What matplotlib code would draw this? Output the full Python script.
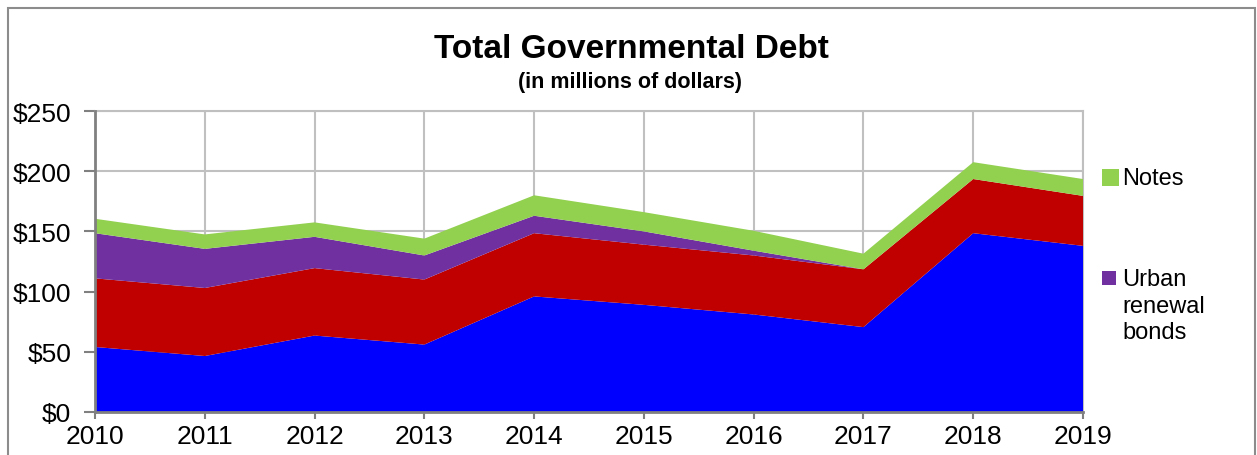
import matplotlib
matplotlib.use("Agg")
import matplotlib.pyplot as plt
from matplotlib.patches import Rectangle
from matplotlib.ticker import FuncFormatter, MultipleLocator

plt.rcParams["font.family"] = ["Liberation Sans", "DejaVu Sans"]

years = [2010, 2011, 2012, 2013, 2014, 2015, 2016, 2017, 2018, 2019]
general_obligation = [54, 46.5, 63.5, 56, 96, 89, 81, 70.5, 148.5, 138]
revenue_bonds = [57, 56.5, 56, 54, 52.5, 50, 49, 48, 45, 41.5]
urban_renewal = [37.5, 32.5, 26, 20, 14.5, 11, 4, 0, 0, 0]
notes = [12, 12, 12, 14, 17, 16, 16.5, 13, 14, 14]

colors = ["#0000FF", "#C00000", "#7030A0", "#92D050"]

W, H = 1257, 456
fig = plt.figure(figsize=(W / 100, H / 100), dpi=100)

# outer chart border
fig.patches.append(Rectangle((8 / W, -0.1), (1255 - 8) / W, 1.1 - 9 / H,
                             transform=fig.transFigure, fill=False,
                             edgecolor="#8c8c8c", linewidth=1.5))

ax = fig.add_axes([95 / W, 1 - 413 / H, (1083 - 95) / W, (413 - 112) / H])
polys = ax.stackplot(years, general_obligation, revenue_bonds, urban_renewal, notes,
                     colors=colors, linewidth=0, zorder=3)

ax.set_xlim(2010, 2019)
ax.set_ylim(0, 250)
ax.set_xticks(years)
ax.yaxis.set_major_locator(MultipleLocator(50))
ax.yaxis.set_major_formatter(FuncFormatter(lambda v, p: f"${v:.0f}"))
ax.grid(True, color="#c0c0c0", linewidth=1.5, zorder=0)
ax.set_axisbelow(True)

for side in ["top", "right"]:
    ax.spines[side].set_color("#bfbfbf")
    ax.spines[side].set_linewidth(1.5)
for side in ["left", "bottom"]:
    ax.spines[side].set_color("#808080")
    ax.spines[side].set_linewidth(2)
    ax.spines[side].set_zorder(5)

ax.tick_params(axis="y", length=8, width=1.5, color="#808080", labelsize=19, pad=9)
ax.tick_params(axis="x", length=5, width=1.5, color="#808080", labelsize=19, pad=4)

fig.text(631 / W, 1 - 58 / H, "Total Governmental Debt", ha="center", va="baseline",
         fontsize=24, fontweight="bold")
fig.text(630 / W, 1 - 88 / H, "(in millions of dollars)", ha="center", va="baseline",
         fontsize=15.5, fontweight="bold")

# legend (only two entries visible in the original)
legend_items = [(colors[3], "Notes", 178, 17), (colors[2], "Urban\nrenewal\nbonds", 279, 14)]
for col, label, ypix, size in legend_items:
    fig.patches.append(Rectangle((1102 / W, 1 - (ypix + size / 2) / H), size / W, size / H,
                                 transform=fig.transFigure, facecolor=col,
                                 edgecolor="none"))
    fig.text(1122 / W, 1 - (ypix - 10) / H, label, ha="left", va="top",
             fontsize=17, linespacing=1.27)

fig.savefig("out.png", dpi=100)
